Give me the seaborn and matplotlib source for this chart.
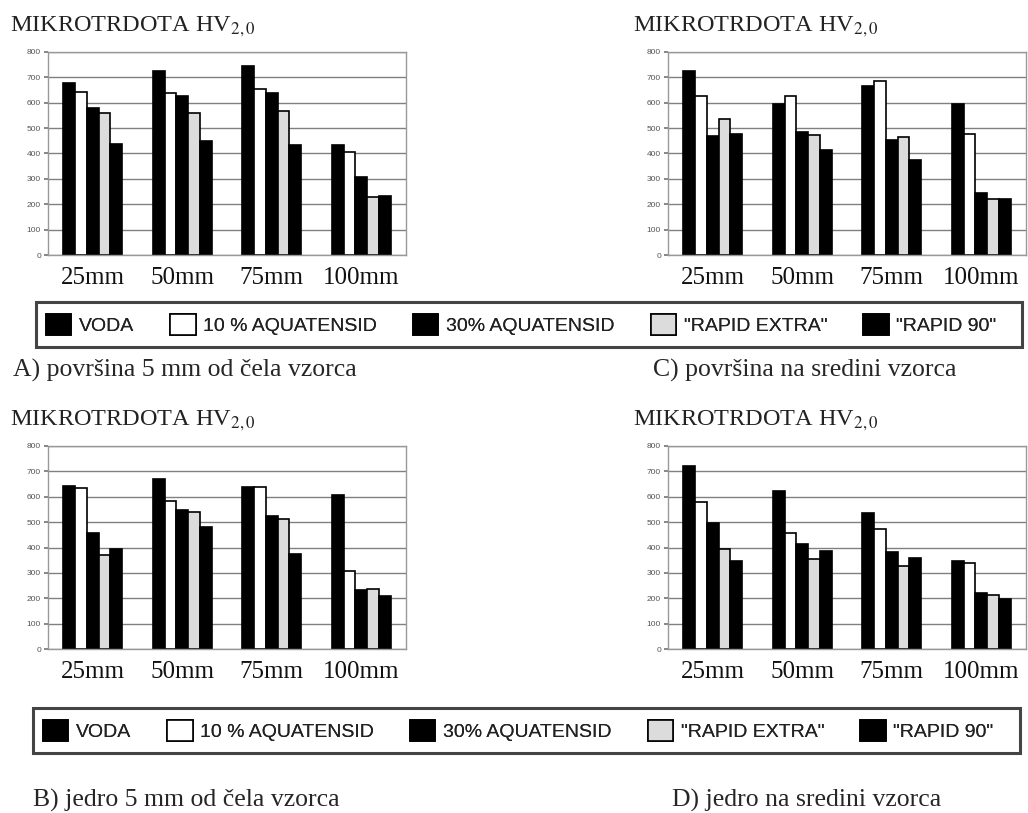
import pandas as pd
import seaborn as sns
import matplotlib.pyplot as plt
from matplotlib.patches import Rectangle

# kategorije in serije
razdalje = ["25mm", "50mm", "75mm", "100mm"]
serije = ["VODA", "10 % AQUATENSID", "30% AQUATENSID", '"RAPID EXTRA"', '"RAPID 90"']
barve = ["#000000", "#ffffff", "#000000", "#dcdcdc", "#000000"]

# vrednosti po serijah (VODA, 10%, 30%, RAPID EXTRA, RAPID 90) za vsako razdaljo
povrsina_celo = [[676, 643, 581, 559, 439],
                 [725, 640, 627, 559, 450],
                 [745, 654, 637, 568, 432],
                 [432, 406, 307, 230, 232]]
povrsina_sredina = [[726, 628, 467, 537, 476],
                    [595, 627, 484, 473, 413],
                    [666, 685, 454, 465, 376],
                    [595, 476, 245, 222, 222]]
jedro_celo = [[641, 635, 459, 370, 394],
              [669, 582, 547, 541, 482],
              [639, 639, 525, 512, 374],
              [606, 308, 233, 236, 207]]
jedro_sredina = [[720, 580, 495, 394, 347],
                 [623, 459, 414, 353, 386],
                 [534, 473, 384, 329, 357],
                 [348, 338, 220, 213, 198]]

W, H = 1028, 813
sns.set_theme(style="white")
plt.rcParams['font.family'] = ['Liberation Serif', 'DejaVu Serif']
plt.rcParams['mathtext.fontset'] = 'stix'

fig = plt.figure(figsize=(W / 100, H / 100), dpi=100)
fig.patch.set_facecolor("white")


def v_df(vrednosti):
    vrstice = []
    for i, r in enumerate(razdalje):
        for j, s in enumerate(serije):
            vrstice.append({"razdalja": r, "serija": s, "HV": vrednosti[i][j]})
    return pd.DataFrame(vrstice)


def graf(vrednosti, x0, y0, x1, y1, x_naslov):
    # pozicija v pikslih (levo, zgoraj, desno, spodaj)
    ax = fig.add_axes([x0 / W, 1 - y1 / H, (x1 - x0) / W, (y1 - y0) / H])
    sns.barplot(data=v_df(vrednosti), x="razdalja", y="HV", hue="serija",
                hue_order=serije, palette=barve, edgecolor="black", linewidth=1.2,
                width=0.66, ax=ax, saturation=1)
    ax.set_ylim(0, 800)
    ax.set_yticks(range(0, 801, 100))
    ax.set_yticklabels([str(v) for v in range(0, 801, 100)],
                       fontsize=6, color="#555555", family="Liberation Sans")
    ax.set_xlim(-0.5, 3.5)
    ax.set_xticks(range(4))
    ax.set_xticklabels(razdalje, fontsize=18, color="#111111")
    ax.set_xticks([-0.5, 0.5, 1.5, 2.5, 3.5], minor=True)
    ax.tick_params(axis="x", which="major", length=0, pad=9)
    ax.tick_params(axis="x", which="minor", length=4, color="#777777", direction="out")
    ax.tick_params(axis="y", length=3, color="#777777", left=True, pad=2)
    ax.set_axisbelow(True)
    ax.yaxis.grid(True, color="#808080", linewidth=1)
    for s in ax.spines.values():
        s.set_color("#999999")
        s.set_linewidth(1)
    ax.set_xlabel("")
    ax.set_ylabel("")
    h, l = ax.get_legend_handles_labels()
    ax.get_legend().remove()
    fig.text(x_naslov / W, 1 - (y0 - 25) / H, "MIKROTRDOTA HV$_{2,0}$",
             fontsize=17.5, color="#222222", va="center", ha="left")
    return h, l


h, l = graf(povrsina_celo, 48, 52, 406, 255, 10)
graf(povrsina_sredina, 668, 52, 1026, 255, 633)
graf(jedro_celo, 48, 446, 406, 649, 10)
graf(jedro_sredina, 668, 446, 1026, 649, 633)

for x_l, x_r, y_top, y_bot in [(36, 1022, 302, 347), (33, 1020, 708, 753)]:
    fig.add_artist(Rectangle((x_l / W, 1 - y_bot / H), (x_r - x_l) / W, (y_bot - y_top) / H,
                             transform=fig.transFigure, facecolor="white",
                             edgecolor="#444444", linewidth=2.2))
    leg = fig.legend(h, l, loc="center left", ncol=5,
                     bbox_to_anchor=(x_l / W + 10 / W, 1 - (y_top + y_bot) / 2 / H),
                     handlelength=1.3, handleheight=1.35, handletextpad=0.4,
                     columnspacing=1.85, borderaxespad=0, borderpad=0, frameon=False,
                     prop={"family": "Liberation Sans", "size": 14})
    for t in leg.get_texts():
        t.set_color("#222222")
    fig.add_artist(leg)

fig.text(13 / W, 1 - 370 / H, "A) površina 5 mm od čela vzorca", fontsize=18.5, va="center")
fig.text(653 / W, 1 - 370 / H, "C) površina na sredini vzorca", fontsize=18.5, va="center")
fig.text(33 / W, 1 - 800 / H, "B) jedro 5 mm od čela vzorca", fontsize=18.5, va="center")
fig.text(672 / W, 1 - 800 / H, "D) jedro na sredini vzorca", fontsize=18.5, va="center")

fig.savefig("out.png", dpi=100)
